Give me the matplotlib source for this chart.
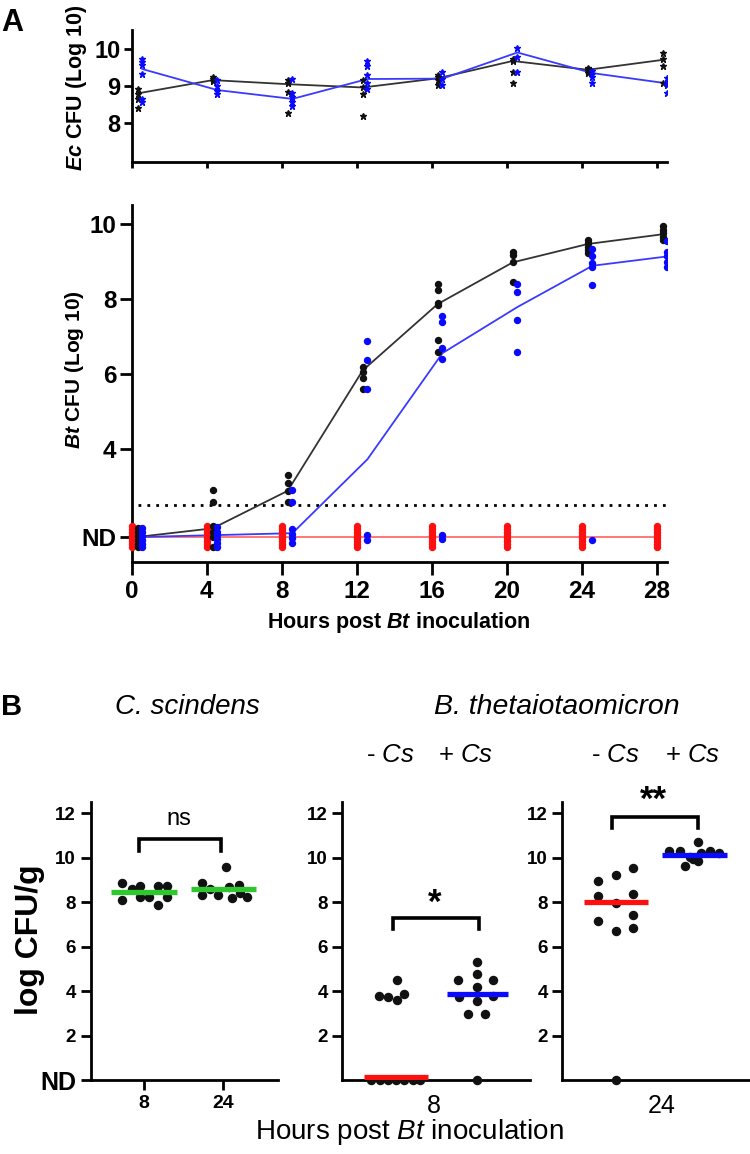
import matplotlib
matplotlib.use("Agg")
import matplotlib.pyplot as plt
import numpy as np

plt.rcParams['font.family'] = ['Liberation Sans', 'DejaVu Sans']
plt.rcParams['mathtext.fontset'] = 'custom'
plt.rcParams['mathtext.rm'] = 'Liberation Sans'
plt.rcParams['mathtext.it'] = 'Liberation Sans:italic'
plt.rcParams['mathtext.bf'] = 'Liberation Sans:bold:italic'

# ---------------- data ----------------
hours = [0, 4, 8, 12, 16, 20, 24, 28]

# Panel A top: E. coli CFU
ec_black_mean = [8.80, 9.16, 9.05, 8.96, 9.21, 9.68, 9.44, 9.71]
ec_blue_mean = [9.46, 8.89, 8.65, 9.19, 9.20, 9.91, 9.35, 9.07]
ec_black_pts = [[8.91, 8.77, 8.65, 8.39], [9.24, 9.18, 9.14], [9.16, 9.07, 8.83, 8.28],
                [9.15, 8.96, 8.77, 8.18], [9.30, 9.24, 9.16, 9.03], [9.73, 9.68, 9.39, 9.07],
                [9.50, 9.45, 9.41, 9.36], [9.89, 9.73, 9.55, 9.07]]
ec_blue_pts = [[9.73, 9.64, 9.57, 9.33, 8.65, 8.56], [9.15, 9.00, 8.87, 8.78],
               [9.18, 8.82, 8.71, 8.57, 8.45], [9.69, 9.55, 9.30, 9.09, 8.91],
               [9.39, 9.19, 9.03], [10.04, 9.78, 9.39], [9.41, 9.33, 9.25, 9.07],
               [9.21, 9.09, 9.03, 8.80]]

# Panel A bottom: B. theta CFU
ND_A = 1.66
LOD_A = 2.5
bt_black_mean = [1.66, 1.89, 2.89, 6.10, 7.87, 8.98, 9.47, 9.73]
bt_blue_mean = [1.66, 1.71, 1.76, 3.73, 6.56, 7.79, 8.89, 9.14]
bt_black_pts = [[1.38, 1.48, 1.58, 1.68, 1.78, 1.90], [2.91, 2.60, 1.94, 1.80, 1.66, 1.40],
                [3.31, 3.10, 2.89, 2.60], [6.20, 6.07, 5.89, 5.60],
                [8.41, 8.25, 7.91, 7.85, 6.90, 6.60], [9.27, 9.18, 8.98, 8.45],
                [9.58, 9.49, 9.40, 9.31, 9.23], [9.94, 9.85, 9.76, 9.67, 9.58]]
bt_blue_pts = [[1.38, 1.48, 1.58, 1.68, 1.78, 1.90], [1.40, 1.50, 1.60, 1.70, 1.80, 1.92],
               [2.91, 2.60, 1.86, 1.74, 1.62, 1.50], [6.89, 6.38, 5.60, 1.70, 1.58],
               [7.55, 7.40, 6.71, 6.40, 1.70, 1.60], [8.40, 8.20, 7.45, 6.60],
               [9.33, 9.15, 8.96, 8.87, 8.38, 1.58], [9.56, 9.27, 9.15, 9.00, 8.87]]
bt_red_pts = [1.38, 1.46, 1.54, 1.62, 1.70, 1.78, 1.86, 1.94]

# Panel B
cs_labels = ['8', '24']
cs_8 = [8.88, 8.10, 8.58, 8.73, 8.22, 8.22, 8.73, 7.88, 8.73, 8.22]
cs_24 = [8.85, 8.33, 8.58, 8.33, 9.60, 8.67, 8.18, 8.78, 8.40, 8.25]
cs_median = [8.48, 8.58]

bt8_minus = [0, 0, 0, 0, 0, 0, 0, 4.48, 3.76, 3.73, 3.58, 3.88]
bt8_plus = [5.30, 4.48, 4.78, 4.50, 4.18, 3.73, 3.54, 3.80, 2.99, 2.99, 0]
bt8_median = [0.12, 3.88]

bt24_minus = [8.94, 9.24, 9.54, 8.27, 7.97, 8.35, 7.15, 6.71, 7.41, 6.84, 0]
bt24_plus = [10.30, 10.31, 10.05, 10.69, 10.20, 10.28, 10.22, 9.61, 9.84, 9.95]
bt24_median = [8.03, 10.12]

# ---------------- layout helpers ----------------
W, H = 750, 1154
fig = plt.figure(figsize=(W / 100, H / 100), dpi=100)


def rect(l, r, t, b):
    return [l / W, 1 - b / H, (r - l) / W, (b - t) / H]


def style(ax, lw=2.0):
    for s in ['top', 'right']:
        ax.spines[s].set_visible(False)
    for s in ['left', 'bottom']:
        ax.spines[s].set_linewidth(lw)
    ax.tick_params(width=lw, color='black')


BLACK = '#111111'
LINEK = '#333333'
BLUE = '#0a0aff'
LINEB = '#3a3aff'
RED = '#ff1010'
LINER = '#ff6060'
GREEN = '#2ec82e'

off_black, off_blue = 0.32, 0.57

# ---------- Top panel (Ec) ----------
ax1 = fig.add_axes(rect(131.7, 666.7, 30, 162.3))
style(ax1)
ax1.set_xlim(0, 28.53)
ax1.set_ylim(6.93, 10.52)
ax1.plot(np.array(hours) + off_black, ec_black_mean, color=LINEK, lw=1.3, zorder=2)
ax1.plot(np.array(hours) + off_blue, ec_blue_mean, color=LINEB, lw=1.3, zorder=2)
for h, pb, pu in zip(hours, ec_black_pts, ec_blue_pts):
    ax1.plot([h + off_black] * len(pb), pb, ls='none', marker='*', ms=4.5, color=BLACK, zorder=3)
    ax1.plot([h + off_blue] * len(pu), pu, ls='none', marker='*', ms=4.5, color=BLUE, zorder=3)
ax1.set_xticks(hours)
ax1.set_xticklabels([])
ax1.set_yticks([8, 9, 10])
ax1.set_yticklabels(['8', '9', '10'], fontsize=17, fontweight='bold')
ax1.tick_params(axis='x', length=4)
ax1.tick_params(axis='y', length=6, pad=2)
fig.text(76.7 / W, 1 - 88 / H, r'$\mathbf{Ec}$ CFU (Log 10)', rotation=90, ha='center', va='center',
         fontsize=15.5, fontweight='bold')

# ---------- Middle panel (Bt) ----------
ax2 = fig.add_axes(rect(131.7, 666.7, 205, 561.7))
style(ax2)
ax2.set_xlim(0, 28.53)
ax2.set_ylim(1.0, 10.51)
ax2.plot([0.36, 28.53], [LOD_A, LOD_A], ls=(0, (1, 2.2)), color='black', lw=2.0, zorder=1)
ax2.plot([0, 28], [ND_A, ND_A], color=LINER, lw=1.2, zorder=1)
ax2.plot(np.array(hours) + off_black, bt_black_mean, color=LINEK, lw=1.3, zorder=2)
ax2.plot(np.array(hours) + off_blue, bt_blue_mean, color=LINEB, lw=1.3, zorder=2)
for h, pb, pu in zip(hours, bt_black_pts, bt_blue_pts):
    ax2.plot([h] * len(bt_red_pts), bt_red_pts, ls='none', marker='o', ms=4.3, color=RED,
             zorder=3, clip_on=False)
    ax2.plot([h + off_black] * len(pb), pb, ls='none', marker='o', ms=4.3, color=BLACK, zorder=3)
    ax2.plot([h + off_blue] * len(pu), pu, ls='none', marker='o', ms=4.3, color=BLUE, zorder=3)
ax2.set_xticks(hours)
ax2.set_xticklabels([str(h) for h in hours], fontsize=17.5, fontweight='bold')
ax2.set_yticks([ND_A, 4, 6, 8, 10])
ax2.set_yticklabels(['ND', '4', '6', '8', '10'], fontsize=17.5, fontweight='bold')
ax2.tick_params(axis='x', length=9, pad=4)
ax2.tick_params(axis='y', length=9, pad=2)
ax2.set_xlabel(r'Hours post $\mathbf{Bt}$ inoculation', fontsize=15.5, fontweight='bold', labelpad=5)
fig.text(75 / W, 1 - 370 / H, r'$\mathbf{Bt}$ CFU (Log 10)', rotation=90, ha='center', va='center',
         fontsize=15, fontweight='bold')

fig.text(12 / W, 1 - 23 / H, 'A', fontsize=22, fontweight='bold', ha='center', va='center')
fig.text(12 / W, 1 - 707 / H, 'B', fontsize=21, fontweight='bold', ha='center', va='center')

# ---------- Panel B ----------
dot_ms = 5.8
bar_lw = 3.8


def bracket(ax, x0, x1, ytop, yleg, label, ty, fs, fw):
    ax.plot([x0, x0, x1, x1], [yleg, ytop, ytop, yleg], color='black', lw=2.6,
            solid_joinstyle='miter', clip_on=False)
    ax.text((x0 + x1) / 2 - 0.02, ty, label, ha='center', va='center', fontsize=fs,
            fontweight=fw, clip_on=False)


# B1: C. scindens
axb1 = fig.add_axes(rect(90.7, 278.3, 801.7, 1080))
style(axb1)
axb1.set_xlim(0.33, 2.69)
axb1.set_ylim(0, 12.52)
cs8_dx = [0.73, 0.73, 0.845, 0.95, 0.95, 1.063, 1.18, 1.18, 1.285, 1.285]
cs24_dx = [1.727, 1.727, 1.83, 1.937, 2.034, 2.076, 2.106, 2.20, 2.21, 2.295]
axb1.plot(cs8_dx, cs_8, ls='none', marker='o', ms=dot_ms, color=BLACK, zorder=3)
axb1.plot(cs24_dx, cs_24, ls='none', marker='o', ms=dot_ms, color=BLACK, zorder=3)
for i, m in enumerate(cs_median):
    axb1.plot([i + 1 - 0.41, i + 1 + 0.41], [m, m], color=GREEN, lw=bar_lw, zorder=4,
              solid_capstyle='butt')
axb1.set_xticks([1, 2])
axb1.set_xticklabels(cs_labels, fontsize=14, fontweight='bold')
axb1.set_yticks([0, 2, 4, 6, 8, 10, 12])
axb1.set_yticklabels(['ND', '2', '4', '6', '8', '10', '12'], fontsize=13.5, fontweight='bold')
for lab in axb1.get_yticklabels()[:1]:
    lab.set_fontsize(18)
axb1.tick_params(axis='both', length=7.5, pad=3)
bracket(axb1, 0.94, 1.967, 10.83, 10.28, 'ns', 11.73, 17, 'normal')
fig.text(30 / W, 1 - 940 / H, 'log CFU/g', rotation=90, ha='center', va='center',
         fontsize=23, fontweight='bold')

fig.text(187 / W, 1 - 707 / H, 'C. scindens', fontsize=20, style='italic', ha='center', va='center')
fig.text(557 / W, 1 - 707 / H, 'B. thetaiotaomicron', fontsize=20.5, style='italic', ha='center',
         va='center')
for xc, txt in [(390, r'- $\mathit{Cs}$'), (466, r'+ $\mathit{Cs}$'),
                (615, r'- $\mathit{Cs}$'), (693, r'+ $\mathit{Cs}$')]:
    fig.text(xc / W, 1 - 755 / H, txt, fontsize=18.5, ha='center', va='center')

# B2: B. theta 8 h
axb2 = fig.add_axes(rect(342.3, 530, 801.7, 1080))
style(axb2)
axb2.set_xlim(0.335, 2.66)
axb2.set_ylim(0, 12.52)
bt8m_dx = [0.695, 0.80, 0.905, 1.0, 1.10, 1.21, 1.30, 1.01, 0.79, 0.905, 1.01, 1.10]
bt8p_dx = [2.0, 1.77, 2.0, 2.2, 2.0, 1.78, 2.0, 2.2, 1.89, 2.1, 2.0]
axb2.plot(bt8m_dx, bt8_minus, ls='none', marker='o', ms=dot_ms, color=BLACK, zorder=3, clip_on=False)
axb2.plot(bt8p_dx, bt8_plus, ls='none', marker='o', ms=dot_ms, color=BLACK, zorder=3, clip_on=False)
axb2.plot([0.6, 1.4], [bt8_median[0]] * 2, color=RED, lw=bar_lw, zorder=4, solid_capstyle='butt')
axb2.plot([1.63, 2.39], [bt8_median[1]] * 2, color=BLUE, lw=bar_lw, zorder=4, solid_capstyle='butt')
axb2.set_xticks([1.47])
axb2.set_xticklabels(['8'], fontsize=18)
axb2.tick_params(axis='x', length=0, pad=10)
axb2.set_yticks([2, 4, 6, 8, 10, 12])
axb2.set_yticklabels(['2', '4', '6', '8', '10', '12'], fontsize=13.5, fontweight='bold')
axb2.tick_params(axis='y', length=7.5, pad=3)
bracket(axb2, 0.96, 2.03, 7.31, 6.79, '*', 7.95, 25, 'bold')

# B3: B. theta 24 h
axb3 = fig.add_axes(rect(562.3, 750, 801.7, 1080))
style(axb3)
axb3.set_xlim(0.335, 2.66)
axb3.set_ylim(0, 12.52)
bt24m_dx = [0.78, 1.0, 1.21, 0.78, 1.0, 1.21, 0.78, 1.0, 1.21, 1.21, 1.0]
bt24p_dx = [1.66, 1.79, 1.92, 2.01, 2.05, 2.16, 2.28, 1.86, 2.02, 1.95]
axb3.plot(bt24m_dx, bt24_minus, ls='none', marker='o', ms=dot_ms, color=BLACK, zorder=3, clip_on=False)
axb3.plot(bt24p_dx, bt24_plus, ls='none', marker='o', ms=dot_ms, color=BLACK, zorder=3, clip_on=False)
axb3.plot([0.6, 1.4], [bt24_median[0]] * 2, color=RED, lw=bar_lw, zorder=4, solid_capstyle='butt')
axb3.plot([1.57, 2.38], [bt24_median[1]] * 2, color=BLUE, lw=bar_lw, zorder=4, solid_capstyle='butt')
axb3.set_xticks([1.57])
axb3.set_xticklabels(['24'], fontsize=18)
axb3.tick_params(axis='x', length=0, pad=10)
axb3.set_yticks([2, 4, 6, 8, 10, 12])
axb3.set_yticklabels(['2', '4', '6', '8', '10', '12'], fontsize=13.5, fontweight='bold')
axb3.tick_params(axis='y', length=7.5, pad=3)
bracket(axb3, 0.95, 2.01, 11.83, 11.33, '**', 12.6, 25, 'bold')

fig.text(409 / W, 1 - 1132 / H, r'Hours post $\mathit{Bt}$ inoculation', fontsize=20,
         ha='center', va='center')

fig.savefig('out.png', dpi=100)
